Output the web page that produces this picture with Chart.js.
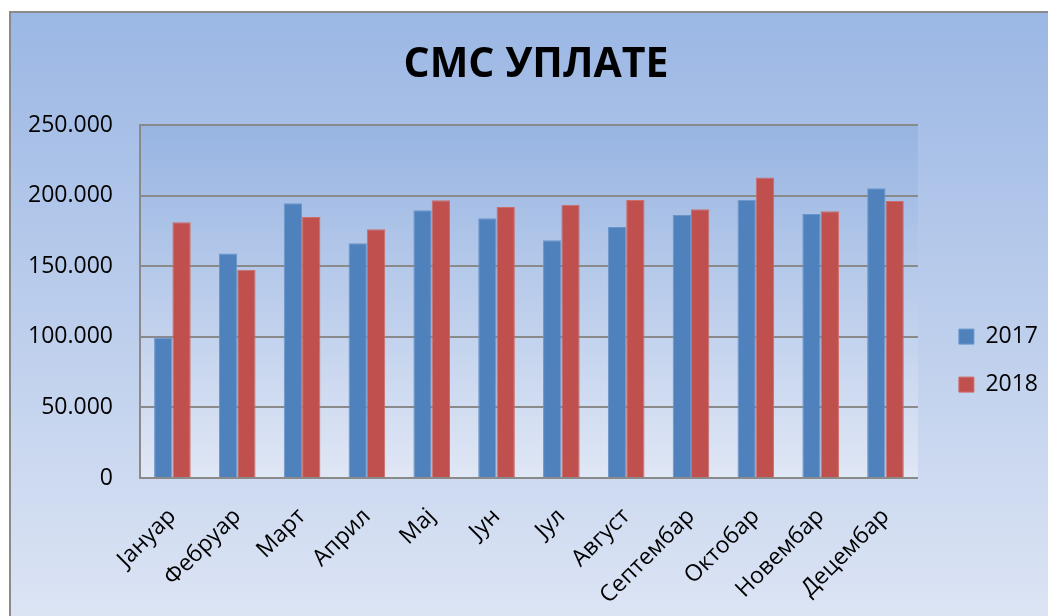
<!DOCTYPE html>
<html>
<head>
<meta charset="utf-8">
<script src="https://cdn.jsdelivr.net/npm/chart.js@4/dist/chart.umd.min.js"></script>
<style>
  html, body { margin: 0; padding: 0; background: #ffffff; }
  #wrap { width: 1048px; height: 616px; }
</style>
</head>
<body>
<div id="wrap"><canvas id="smsChart" width="1048" height="616"></canvas></div>
<script>
// Months (Serbian Cyrillic)
const months = ['Јануар', 'Фебруар', 'Март', 'Април', 'Мај', 'Јун', 'Јул', 'Август', 'Септембар', 'Октобар', 'Новембар', 'Децембар'];
const seriesNames = ['2017', '2018'];
const values2017 = [99500, 159000, 194700, 166400, 189700, 184000, 168500, 177900, 186400, 197200, 187100, 205300];
const values2018 = [181200, 147500, 185000, 176300, 196800, 192000, 193700, 197000, 190400, 213000, 189000, 196300];
const yTicks = [0, 50000, 100000, 150000, 200000, 250000];

const fontFamily = "'Open Sans', 'Noto Sans', sans-serif";

/* 250000 -> 250.000 */
function formatThousands(v) {
	return String(v).replace(/\B(?=(\d{3})+(?!\d))/g, '.');
}

/* paints the outer frame and the plot area gradients */
const backgroundPlugin = {
	id: 'excelBackground',
	beforeDraw(chart) {
		const ctx = chart.ctx;
		const w = chart.width, h = chart.height;
		const area = chart.chartArea;
		ctx.save();
		ctx.fillStyle = '#ffffff';
		ctx.fillRect(0, 0, w, h);

		// outer chart frame
		let g = ctx.createLinearGradient(0, 12, 0, h);
		g.addColorStop(0, '#9bb7e4');
		g.addColorStop(1, '#dce4f4');
		ctx.fillStyle = g;
		ctx.fillRect(10, 12, w, h);
		ctx.strokeStyle = '#8a8a8a';
		ctx.lineWidth = 2;
		ctx.strokeRect(10, 12, w + 10, h + 10);

		// plot area
		g = ctx.createLinearGradient(0, area.top, 0, area.bottom);
		g.addColorStop(0, '#97b4e2');
		g.addColorStop(1, '#e0e7f5');
		ctx.fillStyle = g;
		ctx.fillRect(area.left, area.top, area.right - area.left, area.bottom - area.top);
		ctx.restore();
	}
};

const chartData = {
	labels: months,
	datasets: [
		{
			label: seriesNames[0],
			data: values2017,
			backgroundColor: '#4f81bd',
			borderColor: '#6a95c9',
			borderWidth: 1
		},
		{
			label: seriesNames[1],
			data: values2018,
			backgroundColor: '#c0504d',
			borderColor: '#cc6d6a',
			borderWidth: 1
		}
	]
};

const chartConfig = {
	type: 'bar',
	data: chartData,
	plugins: [backgroundPlugin],
	options: {
		responsive: false,
		animation: false,
		devicePixelRatio: 1,
		layout: {
			padding: { top: 12, left: 24, right: 0, bottom: 0 }
		},
		datasets: {
			bar: {
				categoryPercentage: 0.565,
				barPercentage: 1.0
			}
		},
		scales: {
			x: {
				grid: { display: false, drawTicks: false },
				border: { display: true, color: '#8a8a8a', width: 2 },
				ticks: {
					color: '#000000',
					font: { family: fontFamily, size: 23 },
					minRotation: 45,
					maxRotation: 45,
					padding: 25
				},
				afterFit(scale) {
					scale.height = 138;
				}
			},
			y: {
				min: 0,
				max: 250000,
				afterBuildTicks(scale) {
					scale.ticks = yTicks.map(v => ({ value: v }));
				},
				grid: { color: '#8a8a8a', lineWidth: 2, drawTicks: false },
				border: { display: true, color: '#8a8a8a', width: 2 },
				ticks: {
					color: '#000000',
					font: { family: fontFamily, size: 23 },
					padding: 27,
					callback: (v) => formatThousands(v)
				},
				afterFit(scale) {
					scale.width = 116;
				}
			},
			// empty spacer between plot area and legend
			spacer: {
				type: 'linear',
				position: 'right',
				display: true,
				grid: { display: false },
				border: { display: false },
				ticks: { display: false },
				afterFit(scale) {
					scale.width = 16;
				}
			}
		},
		plugins: {
			title: {
				display: true,
				text: 'СМС УПЛАТЕ',
				color: '#000000',
				font: { family: fontFamily, size: 41, weight: 'bold' },
				padding: { top: 29, bottom: 35 }
			},
			legend: {
				position: 'right',
				title: {
					display: true,
					text: '',
					font: { size: 1 },
					padding: { top: 92, bottom: 0 }
				},
				labels: {
					color: '#000000',
					font: { family: fontFamily, size: 23 },
					boxWidth: 15,
					boxHeight: 15,
					padding: 25
				}
			},
			tooltip: { enabled: false }
		}
	}
};

const smsChart = new Chart(document.getElementById('smsChart'), chartConfig);
</script>
</body>
</html>
